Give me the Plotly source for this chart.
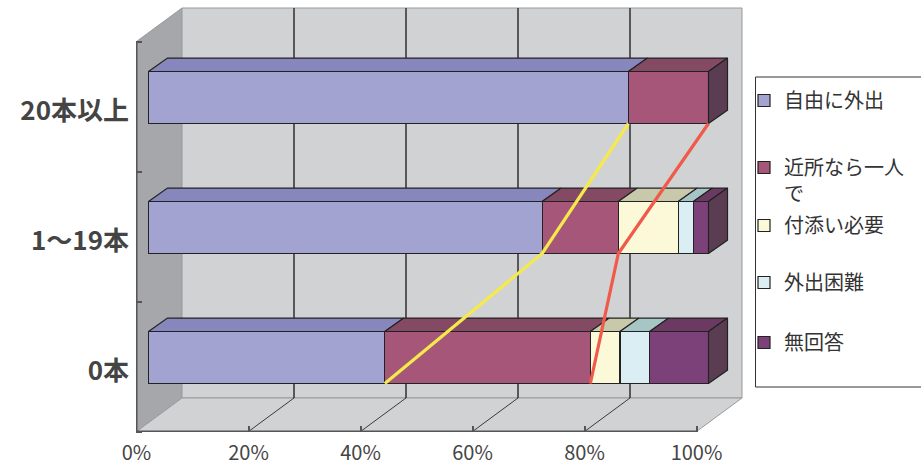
import plotly.graph_objects as go

# ---- data -------------------------------------------------------------
categories = ["0本", "1〜19本", "20本以上"]
series_names = ["自由に外出", "近所なら一人<br>で", "付添い必要", "外出困難", "無回答"]
jiyu = [42.2, 70.3, 85.7]        # 自由に外出
kinjo = [36.7, 13.6, 14.3]       # 近所なら一人で
tsukisoi = [5.3, 10.7, 0.0]      # 付添い必要
konnan = [5.3, 2.7, 0.0]         # 外出困難
mukaitou = [10.5, 2.7, 0.0]      # 無回答
x_tick_vals = [0, 20, 40, 60, 80, 100]
x_tick_text = ["0%", "20%", "40%", "60%", "80%", "100%"]

series_values = [jiyu, kinjo, tsukisoi, konnan, mukaitou]
front_colors = ["#A2A3D1", "#A65678", "#FCF9D9", "#DAEEF3", "#7C4179"]
top_colors = ["#8787BE", "#844A63", "#C8C8AA", "#A6C6C6", "#6B3A62"]
side_color = "#5B3D53"
edge_color = "#222222"

# ---- geometry (pixels -> data units) -----------------------------------
W, H = 921, 470
PLOT_L, PLOT_R, PLOT_T, PLOT_B = 136, 760, 5, 432
PX = 5.6            # pixels per percent
BAR_X0 = 148.5      # pixel of 0% on the bar plane
ROW_Y0 = 357.5      # pixel of the first row centre on the bar plane
STEP = 130.0        # pixels per category

xr = [(PLOT_L - BAR_X0) / PX, (PLOT_R - BAR_X0) / PX]
yr = [(ROW_Y0 - PLOT_B) / STEP, (ROW_Y0 - PLOT_T) / STEP]


def paper_x(px):
    return (px - PLOT_L) / (PLOT_R - PLOT_L)


def paper_y(py):
    return (PLOT_B - py) / (PLOT_B - PLOT_T)


FRONT = (-12 / PX, -9 / STEP)        # front plane offset from bar plane
BACK = (33.5 / PX, 24.5 / STEP)      # back wall offset from bar plane
DEPTH = (19 / PX, 13.4 / STEP)       # bar depth
BAR_W = 0.4

rows = list(range(len(categories)))

fig = go.Figure()

# ---- walls and floor ---------------------------------------------------
lo, hi = -0.5, len(categories) - 0.5
fy, by = lo + FRONT[1], lo + BACK[1]
fty, bty = hi + FRONT[1], hi + BACK[1]
f0, f100 = FRONT[0], 100 + FRONT[0]
b0, b100 = BACK[0], 100 + BACK[0]


def poly(pts):
    return "M " + " L ".join(f"{x},{y}" for x, y in pts) + " Z"


shapes = []
wall_line = dict(color="#9A9A9C", width=1)
shapes.append(dict(type="path", xref="x", yref="y", layer="below",
                   path=poly([(f0, fy), (f0, fty), (b0, bty), (b0, by)]),
                   fillcolor="#A6A7AA", line=wall_line))
shapes.append(dict(type="path", xref="x", yref="y", layer="below",
                   path=poly([(b0, by), (b0, bty), (b100, bty), (b100, by)]),
                   fillcolor="#D1D2D4", line=wall_line))
shapes.append(dict(type="path", xref="x", yref="y", layer="below",
                   path=poly([(f0, fy), (f100, fy), (b100, by), (b0, by)]),
                   fillcolor="#D1D2D4", line=wall_line))
# gridlines on back wall and floor
for v in x_tick_vals[1:-1]:
    shapes.append(dict(type="line", xref="x", yref="y", layer="below",
                       x0=v + BACK[0], x1=v + BACK[0], y0=by, y1=bty,
                       line=dict(color="#3A3A3A", width=1.6)))
    shapes.append(dict(type="line", xref="x", yref="y", layer="below",
                       x0=v + BACK[0], x1=v + FRONT[0], y0=by, y1=fy,
                       line=dict(color="#3A3A3A", width=1)))
# front axis edges
shapes.append(dict(type="line", xref="x", yref="y", layer="below",
                   x0=f0, x1=f0, y0=fy, y1=fty, line=dict(color="#555555", width=2)))
shapes.append(dict(type="line", xref="x", yref="y", layer="below",
                   x0=f0, x1=f100, y0=fy, y1=fy, line=dict(color="#555555", width=2)))
# legend frame
shapes.append(dict(type="rect", xref="paper", yref="paper", layer="below",
                   x0=paper_x(755.5), x1=paper_x(930), y0=paper_y(387), y1=paper_y(77),
                   fillcolor="white", line=dict(color="#333333", width=1)))

# ---- bars: front faces -------------------------------------------------
legend_ids = ["legend", "legend2", "legend3", "legend4", "legend5"]
for name, vals, col, lid in zip(series_names, series_values, front_colors, legend_ids):
    fig.add_trace(go.Bar(
        y=rows, x=vals, orientation="h", width=BAR_W, name=name, legend=lid,
        marker=dict(color=col, line=dict(color=edge_color, width=1.2)),
        hoverinfo="skip"))

# ---- bars: top faces and end faces -------------------------------------
for r in rows:
    start = 0.0
    yt = r + BAR_W / 2
    yb = r - BAR_W / 2
    for vals, tcol in zip(series_values, top_colors):
        v = vals[r]
        if v <= 0:
            continue
        end = start + v
        xs = [start, end, end + DEPTH[0], start + DEPTH[0], start]
        ys = [yt, yt, yt + DEPTH[1], yt + DEPTH[1], yt]
        fig.add_trace(go.Scatter(x=xs, y=ys, mode="lines", fill="toself",
                                 fillcolor=tcol, line=dict(color=edge_color, width=1.2),
                                 showlegend=False, hoverinfo="skip"))
        start = end
    xs = [start, start + DEPTH[0], start + DEPTH[0], start, start]
    ys = [yb, yb + DEPTH[1], yt + DEPTH[1], yt, yb]
    fig.add_trace(go.Scatter(x=xs, y=ys, mode="lines", fill="toself",
                             fillcolor=side_color, line=dict(color=edge_color, width=1.2),
                             showlegend=False, hoverinfo="skip"))

# ---- series lines between rows ----------------------------------------
cum1 = list(jiyu)
cum2 = [a + b for a, b in zip(jiyu, kinjo)]
line_y = [r - BAR_W / 2 for r in rows]
fig.add_trace(go.Scatter(x=cum1, y=line_y, mode="lines",
                         line=dict(color="#F5E94B", width=3.2),
                         showlegend=False, hoverinfo="skip"))
fig.add_trace(go.Scatter(x=cum2, y=line_y, mode="lines",
                         line=dict(color="#EF5A4B", width=3.2),
                         showlegend=False, hoverinfo="skip"))

# placeholder trace so the front-plane axes are drawn
fig.add_trace(go.Scatter(x=[None], y=[None], xaxis="x2", yaxis="y2",
                         showlegend=False, hoverinfo="skip"))

# ---- layout ------------------------------------------------------------
legend_tops = [81, 148, 206, 263, 323]
legend_font = dict(family="Noto Sans CJK JP", size=20, color="#333333")
legends = {}
for lid, top in zip(legend_ids, legend_tops):
    legends[lid] = dict(x=paper_x(744), y=paper_y(top), xanchor="left", yanchor="top",
                        bgcolor="rgba(0,0,0,0)", borderwidth=0, font=legend_font,
                        valign="top", itemclick=False, itemdoubleclick=False)

fig.update_layout(
    width=W, height=H, autosize=False,
    margin=dict(l=PLOT_L, r=W - PLOT_R, t=PLOT_T, b=H - PLOT_B),
    paper_bgcolor="white", plot_bgcolor="rgba(0,0,0,0)",
    barmode="stack", shapes=shapes, showlegend=True,
    xaxis=dict(range=xr, visible=False, fixedrange=True),
    yaxis=dict(range=yr, visible=False, fixedrange=True),
    xaxis2=dict(overlaying="x", anchor="y", side="bottom",
                range=[xr[0] - FRONT[0], xr[1] - FRONT[0]],
                tickmode="array", tickvals=x_tick_vals, ticktext=x_tick_text,
                ticks="inside", ticklen=6, tickcolor="#555555", tickwidth=1.5,
                ticklabelstandoff=7,
                showgrid=False, zeroline=False, showline=False, fixedrange=True,
                tickfont=dict(family="Noto Sans CJK JP", size=20, color="#444444")),
    yaxis2=dict(overlaying="y", anchor="x", side="left",
                range=[yr[0] - FRONT[1], yr[1] - FRONT[1]],
                tickmode="array", tickvals=rows, ticktext=categories, ticks="",
                ticklabelshift=4, ticklabelstandoff=6,
                minor=dict(tickmode="array", tickvals=[lo + i for i in range(len(categories) + 1)],
                           ticks="inside", ticklen=6, tickcolor="#555555", tickwidth=1.5),
                showgrid=False, zeroline=False, showline=False, fixedrange=True,
                tickfont=dict(family="Noto Sans CJK JP", size=26, color="#444444", weight="bold")),
    **legends,
)

fig.write_html("out.html")
